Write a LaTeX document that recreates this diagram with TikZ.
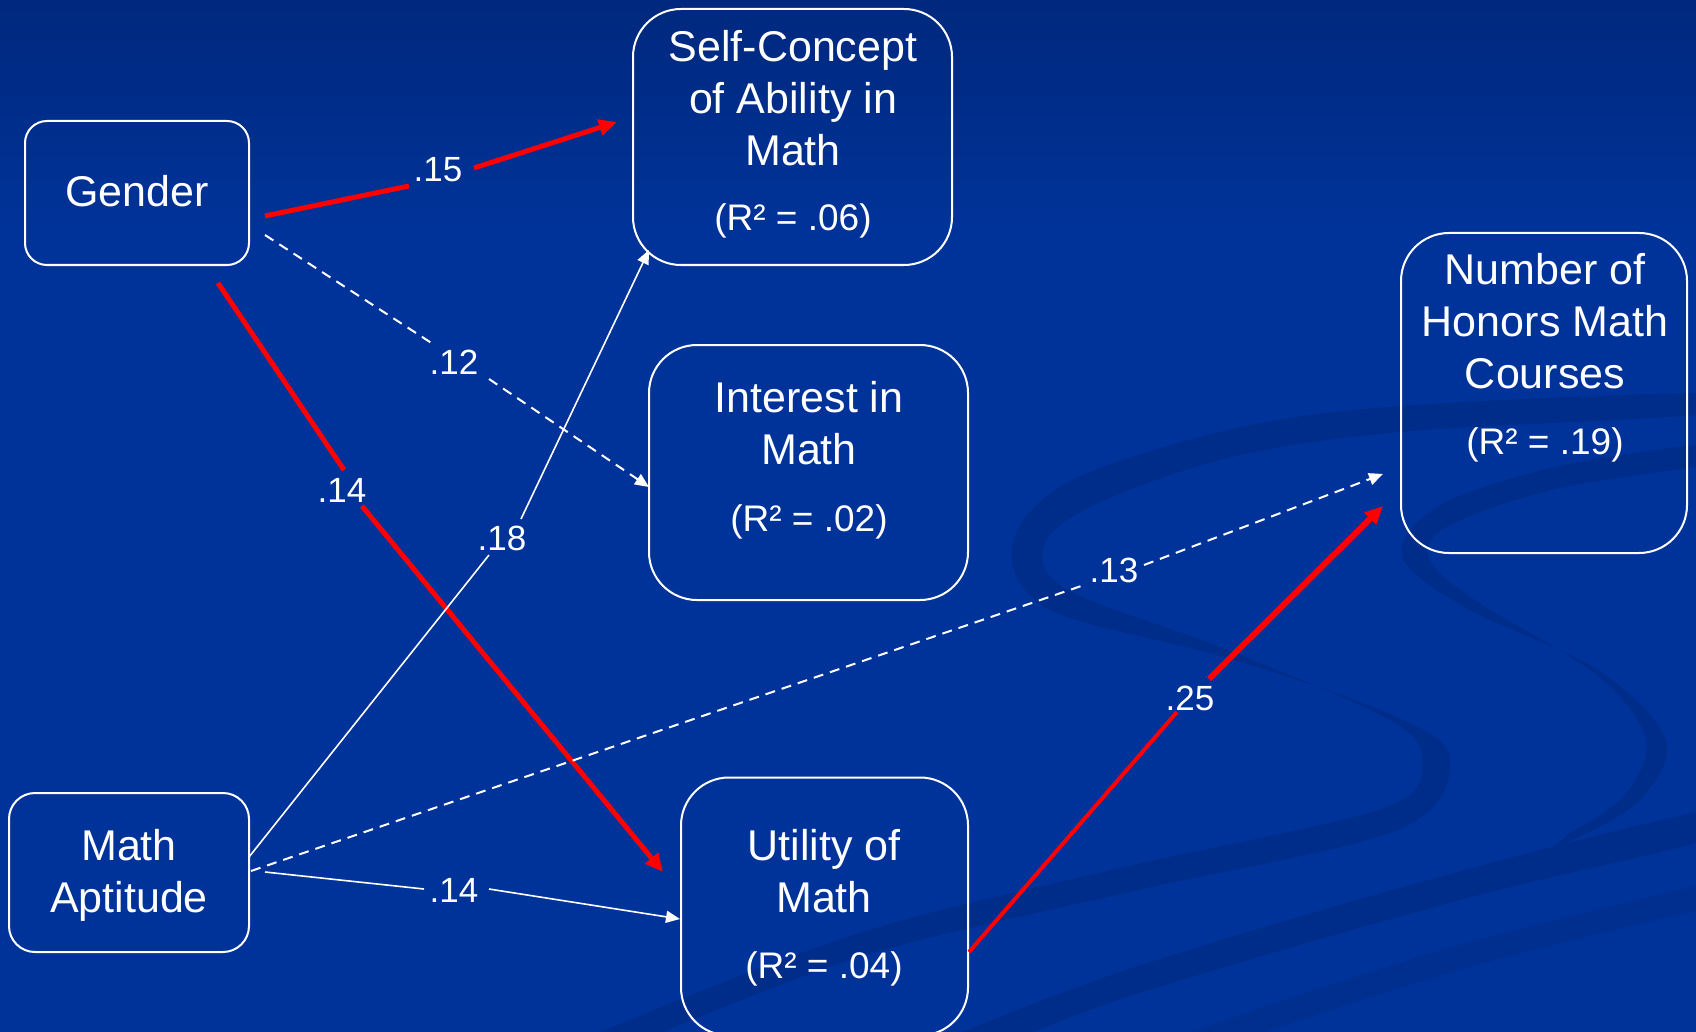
\documentclass[tikz,border=0pt]{standalone}
\usepackage{fontspec}
\setmainfont{Liberation Sans}
\usetikzlibrary{arrows.meta}
\definecolor{bgblue}{RGB}{0,51,153}
\definecolor{bgtop}{RGB}{0,40,126}
\definecolor{swooshc}{RGB}{0,30,105}
\definecolor{pathred}{RGB}{255,0,0}
\begin{document}
\begin{tikzpicture}[x=0.5pt,y=-0.5pt,
  box/.style={draw=white,line width=1pt,rounded corners=24pt,inner sep=0pt,outer sep=0pt},
  txt/.style={text=white,align=center,font=\fontsize{21.5}{26}\selectfont,inner sep=0pt},
  rsq/.style={text=white,font=\fontsize{18.5}{22}\selectfont,inner sep=0pt},
  lab/.style={text=white,font=\fontsize{17.5}{20}\selectfont,inner sep=0pt},
  redline/.style={draw=pathred,line width=2.5pt},
  redarrow/.style={draw=pathred,line width=2.5pt,-{Triangle[length=9pt,width=8pt]}},
  thinline/.style={draw=white,line width=0.8pt},
  thinarrow/.style={draw=white,line width=0.8pt,-{Triangle[length=7pt,width=6pt]}},
  dashline/.style={draw=white,line width=1pt,dash pattern=on 5pt off 3.5pt},
  dasharrow/.style={draw=white,line width=1pt,dash pattern=on 5pt off 3.5pt,-{Triangle[length=7pt,width=6pt]}},
  swoosh/.style={fill=swooshc}
]
\useasboundingbox (0,0) rectangle (1696,1032);
% background
\fill[bgblue] (0,0) rectangle (1696,1032);
\shade[top color=bgtop,bottom color=bgblue] (0,0) rectangle (1696,230);
\begin{scope}
\clip (0,0) rectangle (1696,1032);
\begin{scope}[transparency group,opacity=0.3]
\fill[swoosh] plot[smooth cycle,tension=0.55] coordinates {
  (1720,393) (1400,406) (1228,430) (1068,482) (1012,546) (1050,610) (1228,658) (1390,714) (1450,758) (1398,830) (1120,894) (850,960) (560,1072)
  (560,1050) (850,936) (1120,868) (1384,808) (1422,758) (1386,718) (1228,650) (1068,590) (1044,546) (1092,506) (1228,458) (1400,432) (1720,413)};
\fill[swoosh] plot[smooth cycle,tension=0.55] coordinates {
  (1720,443) (1560,466) (1440,505) (1402,556) (1466,608) (1598,670) (1666,740) (1638,802) (1560,846)
  (1566,836) (1624,796) (1646,740) (1598,676) (1472,598) (1428,556) (1452,524) (1560,488) (1720,462)};
\fill[swoosh] plot[smooth cycle,tension=0.55] coordinates {
  (1720,808) (1450,874) (1120,972) (900,1060) (940,1068) (1130,996) (1460,900) (1720,836)};
\end{scope}
\begin{scope}[transparency group,opacity=0.18]
\draw[draw=swooshc,line width=12pt] plot[smooth,tension=0.6] coordinates {(1710,895) (1450,960) (1190,1045)};
\end{scope}
\end{scope}

% boxes
\node[box,minimum width=112pt,minimum height=72pt,rounded corners=11pt] (gender) at (137,193) {};
\node[box,minimum width=159.5pt,minimum height=128pt] (selfc) at (792.5,137) {};
\node[box,minimum width=159.5pt,minimum height=127.5pt] (interest) at (808.5,472.5) {};
\node[box,minimum width=143pt,minimum height=160pt] (honors) at (1544,393) {};
\node[box,minimum width=120pt,minimum height=79.5pt,rounded corners=13pt] (apt) at (129,872.5) {};
\node[box,minimum width=143.5pt,minimum height=129pt] (util) at (824.5,906.5) {};

% texts
\node[txt] (gendertxt) at (137,191) {Gender};
\node[txt,anchor=north] (selfctxt) at (793,30) {Self-Concept\\of Ability in\\Math};
\node[rsq] (selfcr) at (793,221) {(R² = .06)};
\node[txt,anchor=north] (interesttxt) at (809,381) {Interest in\\Math};
\node[rsq] (interestr) at (809,522) {(R² = .02)};
\node[txt,anchor=north] (honorstxt) at (1545,253) {Number of\\Honors Math\\Courses};
\node[rsq] (honorsr) at (1545,445) {(R² = .19)};
\node[txt,anchor=north] (apttxt) at (129,829) {Math\\Aptitude};
\node[txt,anchor=north] (utiltxt) at (824,829) {Utility of\\Math};
\node[rsq] (utilr) at (824,969) {(R² = .04)};

% connector end points
\coordinate (g1) at (265,216);
\coordinate (g2) at (265,235);
\coordinate (g3) at (218,283);
\coordinate (a1) at (249,857);
\coordinate (a2) at (251,871);
\coordinate (a3) at (265,872);
\coordinate (u1) at (969,952);
\coordinate (sc1) at (617,122);
\coordinate (sc2) at (649,250);
\coordinate (in1) at (649,487);
\coordinate (ut1) at (663,872);
\coordinate (ut2) at (680,919);
\coordinate (ho1) at (1383,474);
\coordinate (ho2) at (1383,506);
% label break points
\coordinate (b15a) at (409,186);
\coordinate (b15b) at (474,168);
\coordinate (b12a) at (433,344);
\coordinate (b12b) at (489,379);
\coordinate (b14a) at (344,470);
\coordinate (b14b) at (362,506);
\coordinate (b18a) at (489,555);
\coordinate (b18b) at (521,519);
\coordinate (b13a) at (1087,584);
\coordinate (b13b) at (1144,565);
\coordinate (b14c) at (424,889);
\coordinate (b14d) at (489,889);
\coordinate (b25a) at (1177,712);
\coordinate (b25b) at (1209,679);

% connectors
\draw[redline] (g1) -- (b15a);
\draw[redarrow] (b15b) -- (sc1);
\draw[dashline] (g2) -- (b12a);
\draw[dasharrow] (b12b) -- (in1);
\draw[redline] (g3) -- (b14a);
\draw[redarrow] (b14b) -- (ut1);
\draw[thinline] (a1) -- (b18a);
\draw[thinarrow] (b18b) -- (sc2);
\draw[dashline] (a2) -- (b13a);
\draw[dasharrow] (b13b) -- (ho1);
\draw[thinline] (a3) -- (b14c);
\draw[thinarrow] (b14d) -- (ut2);
\draw[redline,line width=2pt] (u1) -- (b25a);
\draw[redarrow,line width=3pt] (b25b) -- (ho2);

% labels
\node[lab] (l15) at (438,170) {.15};
\node[lab] (l12) at (454,362) {.12};
\node[lab] (l14a) at (342,490) {.14};
\node[lab] (l18) at (502,538) {.18};
\node[lab] (l13) at (1114,570) {.13};
\node[lab] (l14b) at (454,890) {.14};
\node[lab] (l25) at (1190,698) {.25};
\end{tikzpicture}
\end{document}
